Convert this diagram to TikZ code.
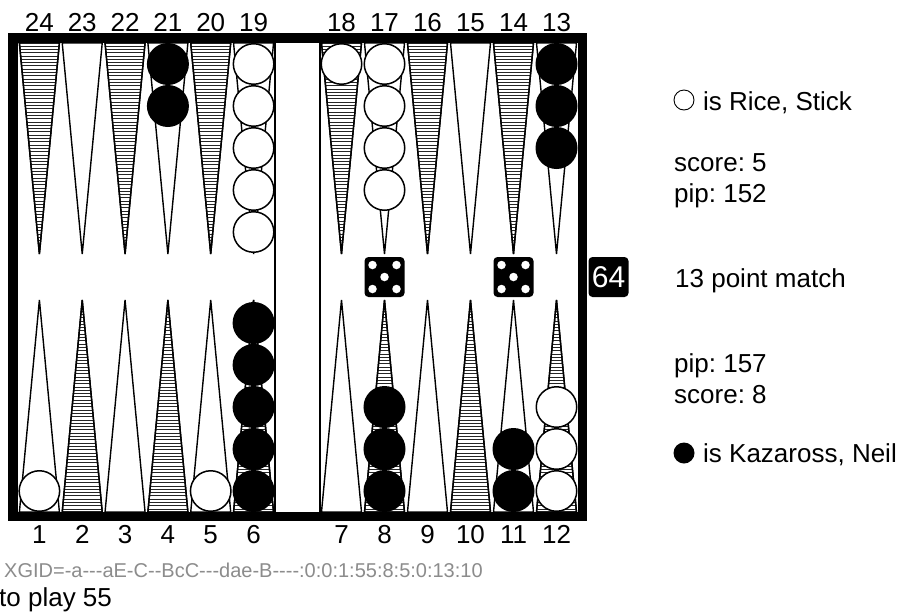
\documentclass[tikz,border=0pt]{standalone}
\usepackage{fontspec}
\setmainfont{Liberation Sans}
\newfontfamily\xgidfont[Ligatures=TeXOff]{Liberation Sans}
\frenchspacing
\begin{document}
\begin{tikzpicture}[x=1pt,y=-1pt,
  lbl/.style={font=\fontsize{26}{30}\selectfont, anchor=base, inner sep=0pt},
  info/.style={font=\fontsize{26}{30}\selectfont, anchor=base west, inner sep=0pt},
  barfill/.style={fill=black},
  ptline/.style={draw=black, line width=1.4pt, fill=white, line join=miter},
  stripe/.style={draw=black!85, line width=0.8pt},
  wchk/.style={circle, draw=black, line width=1.5pt, fill=white, minimum size=40.5pt, inner sep=0pt},
  bchk/.style={circle, draw=black, line width=1.5pt, fill=black, minimum size=40.5pt, inner sep=0pt},
  diebox/.style={fill=black, rounded corners=4pt, minimum size=40pt, inner sep=0pt},
  pipdot/.style={circle, fill=white, minimum size=8.5pt, inner sep=0pt},
  legw/.style={circle, draw=black, line width=0.9pt, fill=white, minimum size=20pt, inner sep=0pt},
  legb/.style={circle, fill=black, minimum size=21pt, inner sep=0pt}
]
\useasboundingbox (0,0) rectangle (903,614);
\fill[white] (0,0) rectangle (903,614);

% ---------- points ----------
\foreach \i in {0,...,5} {
  \foreach \xs/\pitch in {39.4/42.83, 341.5/43} {
    \pgfmathsetmacro{\cx}{\xs+\pitch*\i}
    % top point
    \draw[ptline] (\cx-20,43) -- (\cx,254) -- (\cx+20,43) -- cycle;
    \ifodd\i\relax\else
      \begin{scope}
        \clip (\cx-20,43) -- (\cx,254) -- (\cx+20,43) -- cycle;
        \foreach \yy in {46,49.3,...,253} \draw[stripe] (\cx-22,\yy) -- (\cx+22,\yy);
      \end{scope}
      \draw[ptline, fill=none] (\cx-20,43) -- (\cx,254) -- (\cx+20,43) -- cycle;
    \fi
    % bottom point
    \draw[ptline] (\cx-20,512) -- (\cx,300) -- (\cx+20,512) -- cycle;
    \ifodd\i\relax
      \begin{scope}
        \clip (\cx-20,512) -- (\cx,300) -- (\cx+20,512) -- cycle;
        \foreach \yy in {509,505.7,...,300} \draw[stripe] (\cx-22,\yy) -- (\cx+22,\yy);
      \end{scope}
      \draw[ptline, fill=none] (\cx-20,512) -- (\cx,300) -- (\cx+20,512) -- cycle;
    \fi
  }
}

% ---------- frame ----------
\fill[barfill] (8,33) rectangle (587,43);
\fill[barfill] (8,512) rectangle (587,521);
\fill[barfill] (8,33) rectangle (18,521);
\fill[barfill] (578,33) rectangle (587,521);
\draw[line width=2pt] (275,43) -- (275,512);
\draw[line width=2pt] (320,43) -- (320,512);

% ---------- point numbers ----------
\foreach \i in {0,...,5} {
  \pgfmathsetmacro{\cl}{39.4+42.83*\i}
  \pgfmathsetmacro{\cr}{341.5+43*\i}
  \pgfmathtruncatemacro{\ta}{24-\i}
  \pgfmathtruncatemacro{\tb}{18-\i}
  \pgfmathtruncatemacro{\ba}{1+\i}
  \pgfmathtruncatemacro{\bb}{7+\i}
  \node[lbl] (t\ta) at (\cl,31) {\ta};
  \node[lbl] (t\tb) at (\cr,31) {\tb};
  \node[lbl] (b\ba) at (\cl,543) {\ba};
  \node[lbl] (b\bb) at (\cr,543) {\bb};
}

% ---------- checkers ----------
\foreach \k in {0,1} \node[bchk] (p21c\k) at (167.9,64+42*\k) {};
\foreach \k in {0,...,4} \node[wchk] (p19c\k) at (253.6,64+42*\k) {};
\node[wchk] (p18c0) at (341.5,64) {};
\foreach \k in {0,...,3} \node[wchk] (p17c\k) at (384.5,64+42*\k) {};
\foreach \k in {0,1,2} \node[bchk] (p13c\k) at (556.5,64+42*\k) {};
\node[wchk] (p1c0) at (39.4,491) {};
\node[wchk] (p5c0) at (210.7,491) {};
\foreach \k in {0,...,4} \node[bchk] (p6c\k) at (253.6,491-42*\k) {};
\foreach \k in {0,1,2} \node[bchk] (p8c\k) at (384.5,491-42*\k) {};
\foreach \k in {0,1} \node[bchk] (p11c\k) at (513.5,491-42*\k) {};
\foreach \k in {0,1,2} \node[wchk] (p12c\k) at (556.5,491-42*\k) {};

% ---------- dice ----------
\foreach \n/\dx in {da/384.5, db/513.5} {
  \node[diebox] (\n) at (\dx,277) {};
  \node[pipdot] (\n p1) at (\dx-12,265) {};
  \node[pipdot] (\n p2) at (\dx+12,265) {};
  \node[pipdot] (\n p3) at (\dx,277) {};
  \node[pipdot] (\n p4) at (\dx-12,289) {};
  \node[pipdot] (\n p5) at (\dx+12,289) {};
}

% ---------- cube ----------
\node[diebox, text=white, font=\fontsize{30}{30}\selectfont] (cube) at (608.5,277) {64};

% ---------- info text ----------
\node[legw] (legwhite) at (684,100) {};
\node[info] (rice) at (703,110) {is Rice, Stick};
\node[info] (score1) at (674,171) {score: 5};
\node[info] (pip1) at (674,202) {pip: 152};
\node[info] (match) at (675,287) {13 point match};
\node[info] (pip2) at (674,372) {pip: 157};
\node[info] (score2) at (674,403) {score: 8};
\node[legb] (legblack) at (684,453) {};
\node[info] (kaz) at (703,462) {is Kazaross, Neil};

\node[anchor=base west, inner sep=0pt, text=black!45, font=\xgidfont\fontsize{20}{24}\selectfont] (xgid) at (4,577) {XGID=-a---aE-C--BcC---dae-B----:0:0:1:55:8:5:0:13:10};
\node[info] (toplay) at (-1,606) {to play 55};
\end{tikzpicture}
\end{document}
